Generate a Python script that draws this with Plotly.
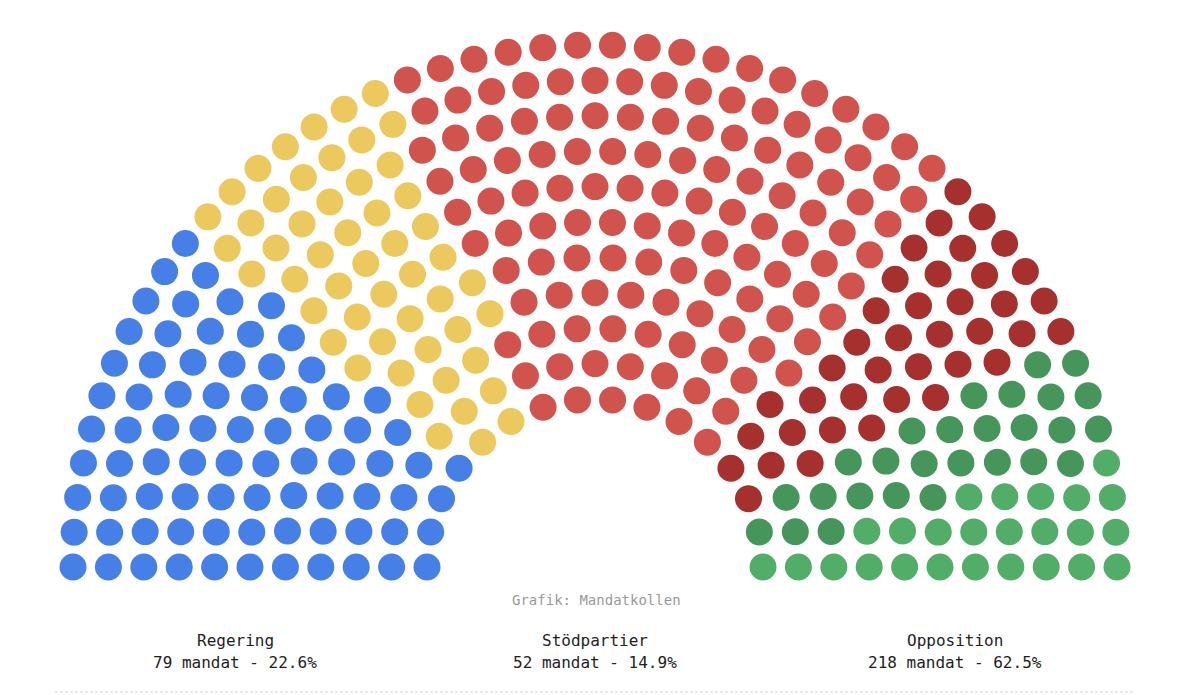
import math
import plotly.graph_objects as go

# ---- data ----
party_names = ["Moderaterna", "Sverigedemokraterna", "Socialdemokraterna",
               "Vänsterpartiet", "Centerpartiet", "Miljöpartiet"]
party_seats = [79, 52, 127, 39, 27, 25]
party_colors = ["#4680E6", "#ECC95F", "#D0544D", "#A5302D", "#46965C", "#52AD68"]

group_names = ["Regering", "Stödpartier", "Opposition"]
group_members = [[0], [1], [2, 3, 4, 5]]

row_seats = [16, 19, 22, 25, 28, 32, 35, 38, 41, 45, 48]
source_text = "Grafik: Mandatkollen"

# ---- layout of the hemicycle ----
inner_radius = 168
row_gap = 35.4
total = sum(party_seats)

seats = []
for i, n in enumerate(row_seats):
    r = inner_radius + i * row_gap
    for j in range(n):
        theta = math.pi * (1 - j / (n - 1))
        seats.append((j / n, -r, r * math.cos(theta), r * math.sin(theta)))
seats.sort()

fig = go.Figure()
pos = 0
for name, count, color in zip(party_names, party_seats, party_colors):
    chunk = seats[pos:pos + count]
    pos += count
    fig.add_trace(go.Scatter(
        x=[s[2] for s in chunk], y=[s[3] for s in chunk],
        mode="markers", name=name,
        marker=dict(size=27, color=color, line=dict(width=0)),
        hovertemplate=name + "<extra></extra>",
    ))

# page has an 8px body margin; plot area is 1200x695 offset by 8px
OFF = 8
W, H = 1200, 695
def px(p):
    return (p - OFF) / W
def py(p):
    return 1 - (p - OFF) / H

font = "DejaVu Sans Mono, Liberation Mono, monospace"
annotations = [dict(text=source_text, x=px(596), y=py(600), xref="paper", yref="paper",
                    showarrow=False, font=dict(family=font, size=14, color="#9a9a9a"),
                    xanchor="center", yanchor="middle")]
group_x = [235, 595, 955]
for gx, gname, members in zip(group_x, group_names, group_members):
    gs = sum(party_seats[m] for m in members)
    pct = 100 * gs / total
    annotations.append(dict(text=gname, x=px(gx), y=py(640), xref="paper", yref="paper",
                            showarrow=False, font=dict(family=font, size=16, color="#1e1e1e"),
                            xanchor="center", yanchor="middle"))
    annotations.append(dict(text=f"{gs} mandat - {pct:.1f}%", x=px(gx), y=py(662),
                            xref="paper", yref="paper", showarrow=False,
                            font=dict(family=font, size=16, color="#1e1e1e"),
                            xanchor="center", yanchor="middle"))

cx, cy = 595, 567
fig.update_layout(
    width=W, height=H, autosize=False,
    margin=dict(l=0, r=0, t=0, b=0),
    paper_bgcolor="white", plot_bgcolor="white",
    showlegend=False,
    xaxis=dict(range=[-(cx - OFF), W - (cx - OFF)], visible=False, fixedrange=True),
    yaxis=dict(range=[(cy - OFF) - H, cy - OFF], visible=False, fixedrange=True),
    annotations=annotations,
    shapes=[dict(type="line", xref="paper", yref="paper", x0=px(55), x1=px(1135),
                 y0=py(692), y1=py(692),
                 line=dict(color="#d6d6d6", width=1, dash="3px,2px"))],
)

fig.write_html("out.html")
